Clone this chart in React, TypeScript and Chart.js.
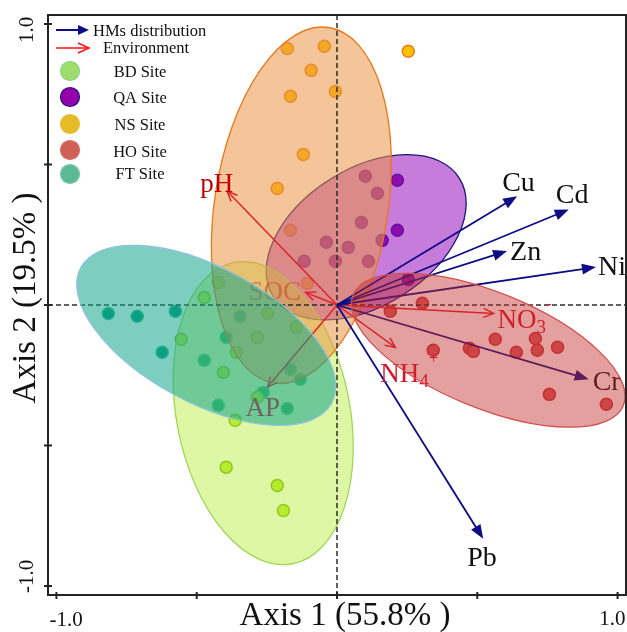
import React, { useEffect, useRef } from 'react';
import { Chart, registerables } from 'chart.js';

Chart.register(...registerables);

// ---------------- data ----------------
const siteNames = ['BD Site', 'QA Site', 'NS Site', 'HO Site', 'FT Site'];

const bdPoints: [number, number][] = [
  [-0.423, 0.081], [-0.473, 0.027], [-0.248, -0.030], [-0.145, -0.079], [-0.284, -0.115],
  [-0.555, -0.122], [-0.359, -0.168], [-0.405, -0.240], [-0.284, -0.328], [-0.363, -0.410],
  [-0.395, -0.577], [-0.213, -0.642], [-0.191, -0.731],
];
const qaPoints: [number, number][] = [
  [0.215, 0.444], [0.215, 0.266], [0.161, 0.230], [0.101, 0.458], [0.144, 0.398],
  [0.087, 0.294], [-0.038, 0.223], [0.040, 0.205], [-0.117, 0.156], [-0.006, 0.156],
  [0.112, 0.156], [0.254, 0.091],
];
const nsPoints: [number, number][] = [
  [-0.177, 0.913], [-0.045, 0.921], [-0.092, 0.835], [-0.166, 0.743], [-0.006, 0.760],
  [-0.120, 0.536], [-0.213, 0.415], [0.254, 0.903], [-0.166, 0.266], [-0.106, 0.077],
];
const hoPoints: [number, number][] = [
  [0.304, 0.006], [0.190, -0.022], [0.343, -0.161], [0.472, -0.154], [0.486, -0.165],
  [0.564, -0.122], [0.639, -0.168], [0.707, -0.119], [0.714, -0.161], [0.786, -0.150],
  [0.757, -0.318], [0.960, -0.353],
];
const ftPoints: [number, number][] = [
  [-0.815, -0.030], [-0.712, -0.040], [-0.576, -0.022], [-0.623, -0.168], [-0.473, -0.197],
  [-0.345, -0.040], [-0.395, -0.115], [-0.423, -0.357], [-0.177, -0.368], [-0.263, -0.311],
  [-0.166, -0.229], [-0.131, -0.264],
];
const sitePoints = [bdPoints, qaPoints, nsPoints, hoPoints, ftPoints];

// confidence ellipses (order: BD, QA, NS, HO, FT), data units
const ellipseCenterX = [-0.263, 0.104, -0.127, 0.539, -0.466];
const ellipseCenterY = [-0.385, 0.241, 0.355, -0.161, -0.108];
const ellipseSemiMajor = [0.546, 0.393, 0.640, 0.520, 0.508];
const ellipseSemiMinor = [0.309, 0.243, 0.309, 0.206, 0.240];
const ellipseAngleDeg = [101.1, 32.4, 81.2, -22.2, -28.3];

// heavy-metal arrows
const hmNames = ['Cu', 'Cd', 'Zn', 'Ni', 'Cr', 'Pb'];
const hmX = [0.642, 0.826, 0.606, 0.923, 0.897, 0.521];
const hmY = [0.387, 0.340, 0.192, 0.135, -0.264, -0.832];

// environment arrows
const envNames = ['pH', 'SOC', 'AP', 'NO3-', 'NH4+'];
const envX = [-0.391, -0.112, -0.248, 0.558, 0.208];
const envY = [0.405, 0.045, -0.293, -0.030, -0.151];

const xTitle = 'Axis 1 (55.8% )';
const yTitle = 'Axis 2 (19.5% )';
const tickValues = [-1, -0.5, 0, 0.5, 1];
const tickLabels = ['-1.0', '', '', '', '1.0'];
const legendArrowLabels = ['HMs distribution', 'Environment'];

// ---------------- styles ----------------
const SERIF = '"Liberation Serif", "Times New Roman", serif';
const pointFill = ['rgb(190,235,50)', 'rgb(125,0,155)', 'rgb(255,192,0)', 'rgb(215,90,95)', 'rgb(0,150,120)'];
const pointBorder = ['rgb(125,175,25)', 'rgb(30,15,120)', 'rgb(235,125,30)', 'rgb(200,50,60)', 'rgb(50,185,155)'];
const ellFill = ['rgba(175,235,40,0.42)', 'rgba(155,20,190,0.56)', 'rgba(235,150,70,0.55)', 'rgba(195,45,40,0.45)', 'rgba(20,165,140,0.55)'];
const ellStroke = ['rgb(160,215,90)', 'rgb(25,25,120)', 'rgb(232,120,30)', 'rgb(210,80,80)', 'rgb(140,195,225)'];
const legendFill = ['rgb(158,220,108)', 'rgb(150,0,170)', 'rgb(228,188,40)', 'rgb(208,96,86)', 'rgb(92,185,150)'];
const legendStroke = ['rgb(140,212,125)', 'rgb(30,20,130)', 'rgb(228,190,60)', 'rgb(214,110,100)', 'rgb(120,200,170)'];
const NAVY = 'rgb(12,12,132)';
const RED = 'rgb(222,36,40)';
const hmLabelOffset: [number, number][] = [[-15, -5], [-13, -6], [3, 9], [2, 8], [4, 11], [-16, 27]];
const envLabelOffset: [number, number][] = [[-27, 1], [-57, 8], [-22, 29], [4, 15], [-15, 35]];
const envLabelColor = ['rgb(192,0,0)', 'rgba(200,60,40,0.55)', 'rgb(215,25,35)', 'rgb(215,20,40)', 'rgb(215,20,40)'];

function drawArrow(ctx: CanvasRenderingContext2D, x0: number, y0: number, x1: number, y1: number,
  color: string, lw: number, headLen: number, headHalf: number, filled: boolean) {
  const ang = Math.atan2(y1 - y0, x1 - x0);
  const c = Math.cos(ang), s = Math.sin(ang);
  ctx.save();
  ctx.strokeStyle = color;
  ctx.fillStyle = color;
  ctx.lineWidth = lw;
  ctx.beginPath();
  ctx.moveTo(x0, y0);
  if (filled) ctx.lineTo(x1 - c * headLen * 0.85, y1 - s * headLen * 0.85);
  else ctx.lineTo(x1, y1);
  ctx.stroke();
  const bx = x1 - c * headLen, by = y1 - s * headLen;
  const lx = bx - s * headHalf, ly = by + c * headHalf;
  const rx = bx + s * headHalf, ry = by - c * headHalf;
  ctx.beginPath();
  if (filled) {
    ctx.moveTo(x1, y1); ctx.lineTo(lx, ly); ctx.lineTo(rx, ry); ctx.closePath(); ctx.fill();
  } else {
    ctx.moveTo(lx, ly); ctx.lineTo(x1, y1); ctx.lineTo(rx, ry); ctx.stroke();
  }
  ctx.restore();
}

function drawEllipse(chart: any, i: number) {
  const ctx: CanvasRenderingContext2D = chart.ctx;
  const xs = chart.scales.x, ys = chart.scales.y;
  const px = xs.getPixelForValue(ellipseCenterX[i]);
  const py = ys.getPixelForValue(ellipseCenterY[i]);
  const kx = xs.getPixelForValue(1) - xs.getPixelForValue(0);
  const ky = ys.getPixelForValue(0) - ys.getPixelForValue(1);
  ctx.save();
  ctx.beginPath();
  ctx.save();
  ctx.translate(px, py);
  ctx.scale(kx, -ky);
  ctx.rotate((ellipseAngleDeg[i] * Math.PI) / 180);
  ctx.ellipse(0, 0, ellipseSemiMajor[i], ellipseSemiMinor[i], 0, 0, Math.PI * 2);
  ctx.restore();
  ctx.fillStyle = ellFill[i];
  ctx.fill();
  ctx.strokeStyle = ellStroke[i];
  ctx.lineWidth = 1.3;
  ctx.stroke();
  ctx.restore();
}

function drawEnvLabel(ctx: CanvasRenderingContext2D, name: string, x: number, y: number, color: string) {
  ctx.fillStyle = color;
  ctx.textAlign = 'left';
  ctx.textBaseline = 'alphabetic';
  let parts: [string, string][] = [[name, 'n']];
  if (name === 'NO3-') parts = [['NO', 'n'], ['3', 'sub'], ['-', 'sup']];
  if (name === 'NH4+') parts = [['NH', 'n'], ['4', 'sub'], ['+', 'sup']];
  let cx = x;
  for (const [t, k] of parts) {
    const size = k === 'n' ? 27 : k === 'sub' ? 19 : 17;
    const dy = k === 'sub' ? 5 : k === 'sup' ? -19 : 0;
    ctx.font = `${size}px ${SERIF}`;
    ctx.fillText(t, cx, y + dy);
    cx += ctx.measureText(t).width;
  }
}

const biplotPlugin = {
  id: 'biplot',
  afterDatasetsDraw(chart: any) {
    const ctx: CanvasRenderingContext2D = chart.ctx;
    const xs = chart.scales.x, ys = chart.scales.y;
    const area = chart.chartArea;
    const ox = xs.getPixelForValue(0), oy = ys.getPixelForValue(0);

    ctx.save();
    ctx.beginPath();
    ctx.rect(area.left, area.top, area.right - area.left, area.bottom - area.top);
    ctx.clip();

    // lower ellipses: QA, BD, NS
    drawEllipse(chart, 1);
    drawEllipse(chart, 0);
    drawEllipse(chart, 2);

    // zero lines
    ctx.save();
    ctx.strokeStyle = 'rgb(45,45,45)';
    ctx.lineWidth = 1.5;
    ctx.setLineDash([5, 3]);
    ctx.beginPath();
    ctx.moveTo(area.left, oy); ctx.lineTo(area.right, oy);
    ctx.moveTo(ox, area.top); ctx.lineTo(ox, area.bottom);
    ctx.stroke();
    ctx.restore();

    // environment arrows
    envNames.forEach((name, i) => {
      const tx = xs.getPixelForValue(envX[i]), ty = ys.getPixelForValue(envY[i]);
      drawArrow(ctx, ox, oy, tx, ty, RED, 1.5, 10, 4.5, false);
    });
    // HM arrows
    hmNames.forEach((name, i) => {
      const tx = xs.getPixelForValue(hmX[i]), ty = ys.getPixelForValue(hmY[i]);
      drawArrow(ctx, ox, oy, tx, ty, NAVY, 1.8, 14, 5.5, true);
    });
    // labels
    hmNames.forEach((name, i) => {
      const tx = xs.getPixelForValue(hmX[i]), ty = ys.getPixelForValue(hmY[i]);
      ctx.fillStyle = '#111';
      ctx.font = `28px ${SERIF}`;
      ctx.textAlign = 'left';
      ctx.textBaseline = 'alphabetic';
      ctx.fillText(name, tx + hmLabelOffset[i][0], ty + hmLabelOffset[i][1]);
    });
    envNames.forEach((name, i) => {
      const tx = xs.getPixelForValue(envX[i]), ty = ys.getPixelForValue(envY[i]);
      drawEnvLabel(ctx, name, tx + envLabelOffset[i][0], ty + envLabelOffset[i][1], envLabelColor[i]);
    });

    // upper ellipses: FT, HO
    drawEllipse(chart, 4);
    drawEllipse(chart, 3);
    ctx.restore();

    // frame
    ctx.save();
    ctx.strokeStyle = 'rgb(35,35,35)';
    ctx.lineWidth = 2;
    ctx.strokeRect(area.left, area.top, area.right - area.left, area.bottom - area.top);
    // ticks
    ctx.lineWidth = 2;
    ctx.beginPath();
    tickValues.forEach((v) => {
      const px = xs.getPixelForValue(v);
      ctx.moveTo(px, area.bottom - 3); ctx.lineTo(px, area.bottom + 4);
      const py = ys.getPixelForValue(v);
      ctx.moveTo(area.left - 4, py); ctx.lineTo(area.left + 4, py);
    });
    ctx.stroke();

    // tick labels
    ctx.fillStyle = '#111';
    ctx.font = `21px ${SERIF}`;
    ctx.textBaseline = 'alphabetic';
    tickValues.forEach((v, i) => {
      const lab = tickLabels[i];
      if (!lab) return;
      const px = xs.getPixelForValue(v);
      if (v < 0) { ctx.textAlign = 'left'; ctx.fillText(lab, px - 7, area.bottom + 31); }
      else { ctx.textAlign = 'right'; ctx.fillText(lab, px + 8, area.bottom + 30); }
      const py = ys.getPixelForValue(v);
      ctx.save();
      ctx.translate(33, v < 0 ? py + 7 : py + 19);
      ctx.rotate(-Math.PI / 2);
      ctx.textAlign = 'left';
      ctx.fillText(lab, 0, 0);
      ctx.restore();
    });

    // axis titles
    ctx.font = `33px ${SERIF}`;
    ctx.textAlign = 'center';
    ctx.fillText(xTitle, 345, area.bottom + 30);
    ctx.save();
    ctx.translate(35, 298);
    ctx.rotate(-Math.PI / 2);
    ctx.fillText(yTitle, 0, 0);
    ctx.restore();

    // legend
    drawArrow(ctx, 56, 30, 89, 30, NAVY, 2, 11, 5, true);
    drawArrow(ctx, 56, 48, 89, 48, 'rgb(250,20,20)', 1.5, 11, 5, false);
    ctx.font = `16.5px ${SERIF}`;
    ctx.fillStyle = '#111';
    ctx.textAlign = 'left';
    ctx.fillText(legendArrowLabels[0], 93, 36);
    ctx.fillText(legendArrowLabels[1], 103, 53);
    const cys = [71, 97, 124, 150, 174];
    const bys = [77, 103, 130, 157, 179];
    siteNames.forEach((name, i) => {
      ctx.beginPath();
      ctx.arc(70, cys[i], 9.5, 0, Math.PI * 2);
      ctx.fillStyle = legendFill[i];
      ctx.fill();
      ctx.lineWidth = 1.2;
      ctx.strokeStyle = legendStroke[i];
      ctx.stroke();
      ctx.fillStyle = '#111';
      ctx.textAlign = 'center';
      ctx.fillText(name, 140, bys[i]);
    });
    ctx.restore();
  },
};

export default function App() {
  const ref = useRef<HTMLCanvasElement>(null);
  useEffect(() => {
    if (!ref.current) return;
    const chart = new Chart(ref.current, {
      type: 'scatter',
      data: {
        datasets: siteNames.map((name, i) => ({
          label: name,
          data: sitePoints[i].map(([x, y]) => ({ x, y })),
          backgroundColor: pointFill[i],
          borderColor: pointBorder[i],
          pointRadius: 6,
          borderWidth: 1.5,
          showLine: false,
        })),
      },
      options: {
        animation: false,
        responsive: false,
        maintainAspectRatio: false,
        events: [],
        layout: { autoPadding: false, padding: { left: 48, top: 15, right: 1, bottom: 37 } },
        plugins: { legend: { display: false }, tooltip: { enabled: false }, title: { display: false } },
        scales: {
          x: { type: 'linear', min: -1.03, max: 1.03, display: false },
          y: { type: 'linear', min: -1.032, max: 1.032, display: false },
        },
      },
      plugins: [biplotPlugin],
    });
    return () => chart.destroy();
  }, []);
  return (
    <div style={{ position: 'absolute', left: 0, top: 0, width: 627, height: 632, background: '#fff' }}>
      <canvas ref={ref} width={627} height={632} style={{ width: 627, height: 632, display: 'block' }} />
    </div>
  );
}
